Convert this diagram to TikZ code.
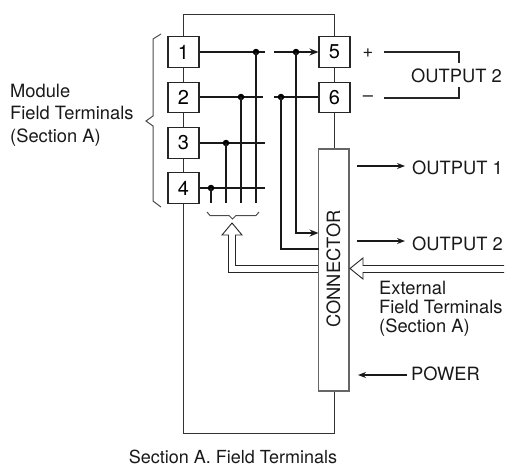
\documentclass[tikz,border=0pt]{standalone}
\usepackage{fontspec}
\setmainfont{TeX Gyre Heros}
\usetikzlibrary{arrows.meta}
\tikzset{
  x=1pt,y=-1pt,
  term/.style={draw=black!85,line width=1.1pt,fill=white,minimum width=31pt,minimum height=30.5pt,inner sep=0pt,font=\fontsize{20}{22}\selectfont},
  lbl/.style={font=\fontsize{18.3}{22.5}\selectfont,inner sep=0pt,align=left,text=black!90},
  lblb/.style={font=\fontsize{18.3}{19}\selectfont,inner sep=0pt,align=left,text=black!90},
  capt/.style={font=\fontsize{18}{20}\selectfont,inner sep=0pt,text=black!90},
  wire/.style={line width=2pt,black!90},
  thin wire/.style={line width=1pt,black!85},
  frame/.style={line width=1pt,black!80},
  dot/.style={circle,fill=black,inner sep=0pt,minimum size=6.5pt},
  arr/.style={line width=1.1pt,black!90,-{Stealth[length=8pt,width=6pt]}},
  hollow/.style={line width=0.9pt,black!85},
}
\begin{document}
\begin{tikzpicture}
\useasboundingbox (0,0) rectangle (508,466);
\coordinate (fa) at (183.5,433);
\coordinate (fb) at (183.5,14);
\coordinate (fc) at (334.5,14);
\coordinate (fd) at (334.5,433);
\draw[frame] (fa) -- (fb) -- (fc) -- (fd) -- cycle;
\node[term] (t1) at (183.5,52) {1};
\node[term] (t2) at (183.5,97.5) {2};
\node[term] (t3) at (183.5,143) {3};
\node[term] (t4) at (183.5,188) {4};
\node[term] (t5) at (334.5,52) {5};
\node[term] (t6) at (334.5,97.5) {6};
\node[draw=black!60,line width=1.3pt,fill=white,minimum width=30.5pt,minimum height=242pt,inner sep=0pt] (conn) at (333.7,270) {};
\node[lbl,rotate=90] (ctext) at (333.5,269) {CONNECTOR};
% horizontal wires
\coordinate (e1) at (265,52); \coordinate (s1) at (274,52);
\coordinate (e2) at (263,97); \coordinate (s2) at (274,97);
\coordinate (e3) at (265,143); \coordinate (e4) at (265,188);
\draw[wire] (t1.east) -- (e1);
\draw[wire] (t2.east |- e2) -- (e2);
\draw[wire] (t3.east) -- (e3);
\draw[wire] (t4.east) -- (e4);
\draw[wire,-{Stealth[length=9pt,width=7pt,inset=3pt]}] (s1) -- (t5.west);
\draw[wire] (s2) -- (t6.west |- s2);
% dots and verticals
\node[dot] (d1) at (256,52) {};
\node[dot] (d2) at (241,97) {};
\node[dot] (d3) at (226,143) {};
\node[dot] (d4) at (211,188) {};
\node[dot] (d5) at (296,52) {};
\node[dot] (d6) at (281,97) {};
\coordinate (b1) at (256,203); \coordinate (b2) at (241,203);
\coordinate (b3) at (226,203); \coordinate (b4) at (211,203);
\draw[wire] (d1.center) -- (b1);
\draw[wire] (d2.center) -- (b2);
\draw[wire] (d3.center) -- (b3);
\draw[wire] (d4.center) -- (b4);
\coordinate (k5) at (296,233); \coordinate (k6) at (281,249);
\coordinate (c5) at (318.5,233); \coordinate (c6) at (318.5,249);
\draw[wire,-{Stealth[length=9pt,width=7pt,inset=3pt]}] (d5.center) -- (k5) -- (c5);
\draw[wire] (d6.center) -- (k6) -- (c6);
% left brace
\coordinate (la) at (161,34); \coordinate (lb) at (153,39);
\coordinate (lc) at (153,116); \coordinate (ld) at (146,121);
\coordinate (le) at (153,126); \coordinate (lf) at (153,201); \coordinate (lg) at (161,207);
\draw[thin wire,black!70] (la) -- (lb) -- (lc) -- (ld) -- (le) -- (lf) -- (lg);
% lower brace
\coordinate (ba) at (207,212); \coordinate (bb) at (210,215.5);
\coordinate (bc) at (229,215.5); \coordinate (bd) at (232.5,219);
\coordinate (be) at (236,215.5); \coordinate (bf) at (256,215.5); \coordinate (bg) at (259,212);
\draw[thin wire,black!70] (ba) -- (bb) -- (bc) -- (bd) -- (be) -- (bf) -- (bg);
% hollow arrow to brace
\coordinate (h1) at (318,272.5); \coordinate (h2) at (228.5,272.5);
\coordinate (h3) at (228.5,235); \coordinate (h4) at (222,235);
\coordinate (h5) at (232,223); \coordinate (h6) at (242,235);
\coordinate (h7) at (235.5,235); \coordinate (h8) at (235.5,265.5); \coordinate (h9) at (318,265.5);
\draw[hollow] (h1) -- (h2) -- (h3) -- (h4) -- (h5) -- (h6) -- (h7) -- (h8) -- (h9);
% hollow arrow from outside
\coordinate (g1) at (504,265.5); \coordinate (g2) at (363,265.5);
\coordinate (g3) at (363,258); \coordinate (g4) at (350,268.5);
\coordinate (g5) at (363,279); \coordinate (g6) at (363,272.5); \coordinate (g7) at (504,272.5);
\draw[hollow] (g1) -- (g2) -- (g3) -- (g4) -- (g5) -- (g6) -- (g7);
% labels
\node[lbl,anchor=west] (mod) at (10,115) {Module\\Field Terminals\\(Section A)};
\node[lblb,anchor=west] (ext) at (379,309) {External\\Field Terminals\\(Section A)};
\node[lbl,anchor=center] (plus) at (368,53) {+};
\node[lbl,anchor=center] (minus) at (368,99) {–};
\node[lbl,anchor=west] (o2a) at (411,76) {OUTPUT 2};
\node[lbl,anchor=west] (o1) at (412,168) {OUTPUT 1};
\node[lbl,anchor=west] (o2b) at (412,244) {OUTPUT 2};
\node[lbl,anchor=west] (pw) at (411,374) {POWER};
\node[capt,anchor=base] (cap) at (233,463.5) {Section A. Field Terminals};
% output arrows
\coordinate (a1) at (357,166); \coordinate (a1e) at (405,166);
\coordinate (a2) at (357,241); \coordinate (a2e) at (405,241);
\coordinate (a3) at (407,375); \coordinate (a3e) at (358,375);
\draw[arr] (a1) -- (a1e);
\draw[arr] (a2) -- (a2e);
\draw[arr] (a3) -- (a3e);
% output 2 bracket
\coordinate (p1) at (384,52); \coordinate (p2) at (459,52); \coordinate (p3) at (459,63);
\coordinate (q1) at (384,98); \coordinate (q2) at (459,98); \coordinate (q3) at (459,87);
\draw[thin wire,line width=1.2pt] (p1) -- (p2) -- (p3);
\draw[thin wire,line width=1.2pt] (q1) -- (q2) -- (q3);
\end{tikzpicture}
\end{document}
